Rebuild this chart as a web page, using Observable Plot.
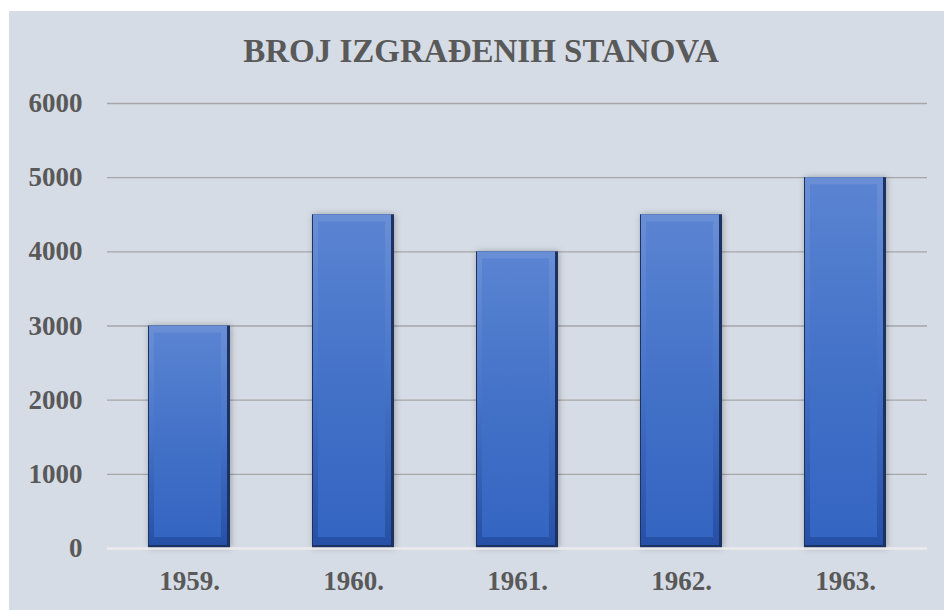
<!DOCTYPE html>
<html>
<head>
<meta charset="utf-8">
<script src="https://cdn.jsdelivr.net/npm/d3@7"></script>
<script src="https://cdn.jsdelivr.net/npm/@observablehq/plot@0.6"></script>
<style>
  html, body { margin: 0; padding: 0; background: #ffffff; }
  #page { position: relative; width: 944px; height: 610px; overflow: hidden; background: #ffffff; }
  #panel { position: absolute; left: 9px; top: 11px; width: 935px; height: 599px; background: #d6dce5; }
  #title { position: absolute; left: 0; top: 33px; width: 962px; text-align: center;
           font-family: "Liberation Serif", "Times New Roman", serif; font-weight: bold;
           font-size: 33px; color: #595959; line-height: 36px; }
  #chart { position: absolute; left: 0; top: 80px; }
</style>
</head>
<body>
<div id="page">
  <div id="panel"></div>
  <div id="title">BROJ IZGRAĐENIH STANOVA</div>
  <div id="chart"></div>
</div>
<script>
const years = ["1959.", "1960.", "1961.", "1962.", "1963."];
const values = [3000, 4500, 4000, 4500, 5000];
const yTicks = [0, 1000, 2000, 3000, 4000, 5000, 6000];

const data = years.map((y, i) => ({year: y, value: values[i]}));

const plot = Plot.plot({
  width: 944,
  height: 530,
  marginTop: 23,
  marginBottom: 62,
  marginLeft: 107,
  marginRight: 17,
  style: {background: "transparent", fontFamily: "Liberation Serif, Times New Roman, serif", overflow: "visible"},
  x: {domain: years, paddingInner: 0.5, paddingOuter: 0.25, label: null},
  y: {domain: [0, 6000], ticks: yTicks, label: null},
  marks: [
    Plot.gridY(yTicks.filter(d => d > 0), {stroke: "#a6a6a6", strokeOpacity: 1, strokeWidth: 1.3}),
    Plot.barY(data, {x: "year", y: "value", fill: "#1b3364", className: "bar-shadow"}),
    Plot.barY(data, {x: "year", y: "value", fill: "url(#barGrad)", insetLeft: 1, insetRight: 3, insetBottom: 3}),
    Plot.barY(data, {x: "year", y: "value", fill: "url(#faceGrad)", insetTop: 7, insetLeft: 6, insetRight: 9, insetBottom: 11}),
    Plot.ruleY([0], {stroke: "#ebebeb", strokeWidth: 2.5}),
    Plot.axisY({ticks: yTicks, tickFormat: d => String(d), tickSize: 0, tickPadding: 25, fontSize: 27, fontWeight: "bold", fill: "#595959", label: null}),
    Plot.axisX({tickSize: 0, tickPadding: 22, fontSize: 27, fontWeight: "bold", fill: "#595959", label: null})
  ]
});

const ns = "http://www.w3.org/2000/svg";
const defs = document.createElementNS(ns, "defs");
defs.innerHTML = `
  <linearGradient id="barGrad" x1="0" y1="0" x2="0" y2="1">
    <stop offset="0" stop-color="#6a8fd6"/>
    <stop offset="0.5" stop-color="#4674c9"/>
    <stop offset="1" stop-color="#2550a6"/>
  </linearGradient>
  <linearGradient id="faceGrad" x1="0" y1="0" x2="0" y2="1">
    <stop offset="0" stop-color="#5a84d2"/>
    <stop offset="0.5" stop-color="#4472c8"/>
    <stop offset="1" stop-color="#3465c2"/>
  </linearGradient>
  <filter id="shadow" x="-30%" y="-5%" width="160%" height="110%">
    <feDropShadow dx="1" dy="0" stdDeviation="3" flood-color="#000" flood-opacity="0.28"/>
  </filter>`;
plot.insertBefore(defs, plot.firstChild);
plot.querySelectorAll(".bar-shadow").forEach(g => g.setAttribute("filter", "url(#shadow)"));
document.getElementById("chart").appendChild(plot);
</script>
</body>
</html>
